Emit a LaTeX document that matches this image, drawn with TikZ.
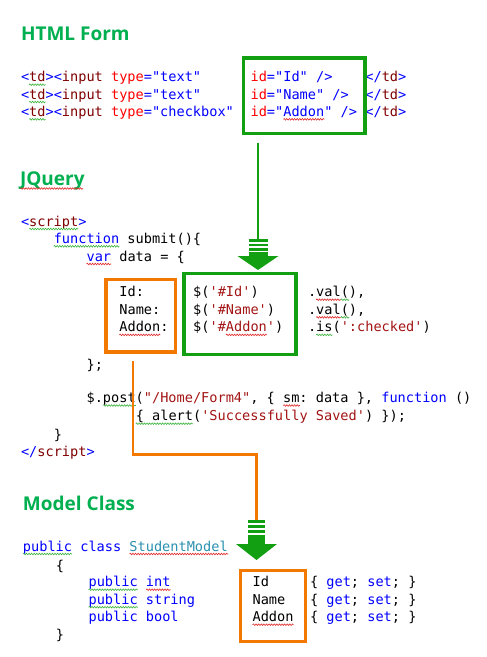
\documentclass[tikz,border=0pt]{standalone}
\usepackage{fontspec}
\setmonofont{DejaVu Sans Mono}
\newfontfamily\headfont{Open Sans}
\usetikzlibrary{decorations.pathmorphing}
\definecolor{kwb}{HTML}{0000FF}
\definecolor{tagm}{HTML}{800000}
\definecolor{attrr}{HTML}{FF0000}
\definecolor{strm}{HTML}{A31515}
\definecolor{typet}{HTML}{2B91AF}
\definecolor{headg}{HTML}{00B050}
\definecolor{boxg}{HTML}{12A012}
\definecolor{boxo}{HTML}{F27800}
\definecolor{sqred}{HTML}{E02828}
\definecolor{sqgreen}{HTML}{3CB43C}
\newcommand\kB[1]{\textcolor{kwb}{#1}}
\newcommand\kM[1]{\textcolor{tagm}{#1}}
\newcommand\kR[1]{\textcolor{attrr}{#1}}
\newcommand\kS[1]{\textcolor{strm}{#1}}
\newcommand\kT[1]{\textcolor{typet}{#1}}
\tikzset{
  code/.style={anchor=base west, inner sep=0pt, outer sep=0pt, font=\ttfamily\fontsize{13.6}{17}\selectfont},
  head/.style={anchor=base west, inner sep=0pt, outer sep=0pt, text=headg, font=\headfont\bfseries\fontsize{19}{22}\selectfont},
  gbox/.style={draw=boxg, line width=3.5pt, inner sep=0pt, anchor=north west},
  obox/.style={draw=boxo, line width=3.5pt, inner sep=0pt, anchor=north west},
  gline/.style={draw=boxg, line width=2.7pt},
  oline/.style={draw=boxo, line width=2.8pt},
  sqr/.style={draw=sqred, line width=0.6pt, decorate, decoration={snake, amplitude=0.8pt, segment length=2.6pt}},
  sqg/.style={draw=sqgreen, line width=0.6pt, decorate, decoration={snake, amplitude=0.8pt, segment length=2.6pt}}
}
\begin{document}
\begin{tikzpicture}[x=1pt,y=-1pt]
\useasboundingbox (0,0) rectangle (487,657);
\fill[white] (0,0) rectangle (487,657);

% ---------- HTML Form ----------
\node[head] (h1) at (21,40) {HTML Form};
\node[code] (a1) at (21,81.7) {\kB{<}\kM{td}\kB{>}\kB{<}\kM{input}~\kR{type}\kB{="text"}};
\node[code] (a2) at (21,99) {\kB{<}\kM{td}\kB{>}\kB{<}\kM{input}~\kR{type}\kB{="text"}};
\node[code] (a3) at (21,116.3) {\kB{<}\kM{td}\kB{>}\kB{<}\kM{input}~\kR{type}\kB{="checkbox"}};
\node[code] (b1) at (250.6,81.7) {\kR{id}\kB{="Id"~/>}};
\node[code] (b2) at (250.6,99) {\kR{id}\kB{="Name"~/>}};
\node[code] (b3) at (250.6,116.3) {\kR{id}\kB{="Addon"~/>}};
\node[code] (c1) at (365.4,81.7) {\kB{</}\kM{td}\kB{>}};
\node[code] (c2) at (365.4,99) {\kB{</}\kM{td}\kB{>}};
\node[code] (c3) at (365.4,116.3) {\kB{</}\kM{td}\kB{>}};
\draw[sqg] (29.2,84.7) -- (45.6,84.7);
\draw[sqg] (29.2,102) -- (45.6,102);
\draw[sqg] (29.2,119.3) -- (45.6,119.3);
\draw[sqr] (283.4,119.3) -- (324.4,119.3);
\node[gbox, minimum width=121.5pt, minimum height=75.5pt] (gb1) at (241.5,56) {};

% ---------- JQuery ----------
\node[head] (h2) at (20,185) {JQuery};
\draw[sqr] (20,188.5) -- (83,188.5);
\node[code] (j1) at (21,226) {\kB{<}\kM{script}\kB{>}};
\node[code] (j2) at (53.8,243.3) {\kB{function}~submit()\{};
\node[code] (j3) at (86.6,261) {\kB{var}~data~=~\{};
\node[code] (k1) at (119.4,296.7) {Id:};
\node[code] (k2) at (119.4,314.3) {Name:};
\node[code] (k3) at (119.4,331.9) {Addon:};
\node[code] (m1) at (193.2,296.7) {\$(\kS{'\#Id'})};
\node[code] (m2) at (193.2,314.3) {\$(\kS{'\#Name'})};
\node[code] (m3) at (193.2,331.9) {\$(\kS{'\#Addon'})};
\node[code] (n1) at (308,296.7) {.val(),};
\node[code] (n2) at (308,314.3) {.val(),};
\node[code] (n3) at (308,331.9) {.is(\kS{':checked'})};
\node[code] (j4) at (86.6,369) {\};};
\node[code] (j5) at (86.6,402.5) {\$.post(\kS{"/Home/Form4"},~\{~sm:~data~\},~\kB{function}~()};
\node[code] (j6) at (135.8,420.7) {\{~alert(\kS{'Successfully~Saved'})~\});};
\node[code] (j7) at (53.8,439) {\}};
\node[code] (j8) at (21,456.5) {\kB{</}\kM{script}\kB{>}};
\draw[sqg] (29.2,229) -- (78.4,229);
\draw[sqg] (53.8,246.3) -- (119.4,246.3);
\draw[sqr] (86.6,264) -- (111.2,264);
\draw[sqr] (316.2,299.7) -- (340.8,299.7);
\draw[sqg] (340.8,299.7) -- (349,299.7);
\draw[sqr] (316.2,317.3) -- (340.8,317.3);
\draw[sqg] (340.8,317.3) -- (349,317.3);
\draw[sqg] (316.2,334.9) -- (332.6,334.9);
\draw[sqr] (119.4,334.9) -- (160.4,334.9);
\draw[sqr] (226,334.9) -- (267,334.9);
\draw[sqg] (103,405.5) -- (135.8,405.5);
\draw[sqr] (283.4,405.5) -- (299.8,405.5);
\draw[sqg] (135.8,423.7) -- (193.2,423.7);
\node[obox, minimum width=69.5pt, minimum height=72.5pt] (ob1) at (104,277.5) {};
\node[gbox, minimum width=112pt, minimum height=81pt] (gb2) at (182,271.5) {};

% ---------- Model Class ----------
\node[head] (h3) at (23,510) {Model Class};
\node[code] (p1) at (23,551) {\kB{public}~\kB{class}~\kT{StudentModel}};
\node[code] (p2) at (55.8,570) {\{};
\node[code] (q1) at (88.6,586.7) {\kB{public}~\kB{int}};
\node[code] (q2) at (88.6,604.2) {\kB{public}~\kB{string}};
\node[code] (q3) at (88.6,621.7) {\kB{public}~\kB{bool}};
\node[code] (r1) at (252.6,586.7) {Id};
\node[code] (r2) at (252.6,604.2) {Name};
\node[code] (r3) at (252.6,621.7) {Addon};
\node[code] (s1) at (310,586.7) {\{~\kB{get};~\kB{set};~\}};
\node[code] (s2) at (310,604.2) {\{~\kB{get};~\kB{set};~\}};
\node[code] (s3) at (310,621.7) {\{~\kB{get};~\kB{set};~\}};
\node[code] (p3) at (55.8,639) {\}};
\draw[sqg] (23,554) -- (72.2,554);
\draw[sqr] (129.6,554) -- (228,554);
\draw[sqg] (88.6,589.7) -- (137.8,589.7);
\draw[sqr] (146,589.7) -- (170.6,589.7);
\draw[sqg] (88.6,607.2) -- (137.8,607.2);
\draw[sqr] (252.6,624.7) -- (293.6,624.7);
\node[obox, minimum width=65pt, minimum height=71pt] (ob2) at (238.5,568.5) {};

% ---------- connectors ----------
\coordinate (g1s) at (258,143);
\coordinate (g1e) at (258,239);
\draw[gline] (g1s) -- (g1e);
\begin{scope}[shift={(g1e)}]
  \fill[boxg] (-9.5,0) rectangle (9.5,2.5);
  \fill[boxg] (-9.5,4.5) rectangle (9.5,7);
  \fill[boxg] (-9.5,9) rectangle (9.5,11.5);
  \fill[boxg] (-9.5,13) rectangle (9.5,17.5);
  \fill[boxg] (-20.5,17) -- (20.5,17) -- (0,31) -- cycle;
\end{scope}

\coordinate (o1s) at (133,361);
\coordinate (o1k) at (133,454.5);
\coordinate (o1m) at (256.5,454.5);
\coordinate (o1e) at (256.5,520);
\draw[oline] (o1s) -- (o1k) -- (o1m) -- (o1e);
\begin{scope}[shift={(o1e)}]
  \fill[boxg] (-8.5,0) rectangle (8.5,2.5);
  \fill[boxg] (-8.5,5) rectangle (8.5,7.5);
  \fill[boxg] (-8.5,10) rectangle (8.5,12.5);
  \fill[boxg] (-8.5,15) rectangle (8.5,24.5);
  \fill[boxg] (-20.5,24) -- (20.5,24) -- (0,40) -- cycle;
\end{scope}
\end{tikzpicture}
\end{document}
